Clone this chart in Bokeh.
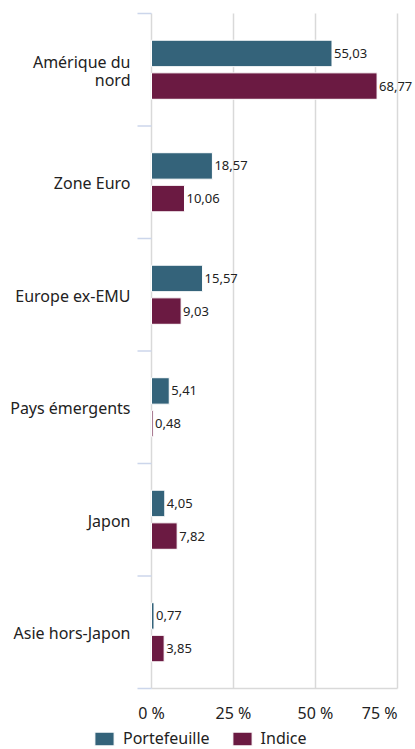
import textwrap
from bokeh.plotting import figure
from bokeh.models import (ColumnDataSource, Range1d, LabelSet, Legend,
                          LegendItem)
from bokeh.core.properties import value
from bokeh.transform import dodge
from bokeh.embed import file_html
from bokeh.resources import INLINE

categories = ["Amérique du nord", "Zone Euro", "Europe ex-EMU",
              "Pays émergents", "Japon", "Asie hors-Japon"]
portefeuille = [55.03, 18.57, 15.57, 5.41, 4.05, 0.77]
indice = [68.77, 10.06, 9.03, 0.48, 7.82, 3.85]
x_ticks = [0, 25, 50, 75]
x_tick_labels = ["0 %", "25 %", "50 %", "75 %"]

FONT = "Noto Sans"
C_PORT = "#34637a"
C_IND = "#6b1a42"
GRID = "#d9d9d9"
TICK = "#ccd6eb"
TXT = "#222222"

W, H = 415, 749
# plot-area placement inside the canvas (pixels)
PL, PR, PT, PB = 151, 397, 13, 688
LINE_H = 18  # px between wrapped category label lines

def fr(v):
    return f"{v:.2f}".replace(".", ",")

n = len(categories)
pos = list(range(n))
bounds = [i - 0.5 for i in range(n + 1)]

# ranges spanning the whole canvas so that nothing is clipped
kx = (PR - PL) / (x_ticks[-1] - x_ticks[0])
ky = (PB - PT) / n
x0 = x_ticks[0] - PL / kx
x1 = x_ticks[-1] + (W - PR) / kx
y_top = -0.5 - PT / ky
y_bot = n - 0.5 + (H - PB) / ky

src = ColumnDataSource(dict(
    pos=pos,
    port=portefeuille,
    ind=indice,
    port_txt=[fr(v) for v in portefeuille],
    ind_txt=[fr(v) for v in indice],
))

# wrapped category labels, one row per line, each right-aligned
lx, ly, lt, lo = [], [], [], []
for i, c in zip(pos, categories):
    lines = textwrap.wrap(c, 15)
    k = len(lines)
    for j, s in enumerate(lines):
        lx.append(0)
        ly.append(i)
        lt.append(s)
        lo.append(-(j - (k - 1) / 2) * LINE_H - 1)
cat_src = ColumnDataSource(dict(x=lx, y=ly, t=lt, yo=lo))

p = figure(width=W, height=H, output_backend="svg", toolbar_location=None,
           x_range=Range1d(x0, x1), y_range=Range1d(y_bot, y_top),
           x_axis_location=None, y_axis_location=None, min_border=0)
p.outline_line_color = None
p.background_fill_color = "white"
p.border_fill_color = "white"
p.xgrid.grid_line_color = None
p.ygrid.grid_line_color = None

# vertical grid lines at the value ticks
p.segment(x0=x_ticks, x1=x_ticks, y0=[bounds[0]] * len(x_ticks),
          y1=[bounds[-1]] * len(x_ticks), line_color=GRID, line_width=1.5)
# value-axis baseline
p.segment(x0=[x_ticks[0]], x1=[x_ticks[-1]], y0=[bounds[-1]], y1=[bounds[-1]],
          line_color=GRID, line_width=1.5)
# category ticks at category boundaries
p.ray(x=[0] * len(bounds), y=bounds, length=14, length_units="screen",
      angle=180, angle_units="deg", line_color=TICK, line_width=1.5)

off = 0.145
hb = 0.235
r1 = p.hbar(y=dodge("pos", -off, range=p.y_range), right="port", left=0,
            height=hb, source=src, fill_color=C_PORT, line_color="white",
            line_width=1)
r2 = p.hbar(y=dodge("pos", off, range=p.y_range), right="ind", left=0,
            height=hb, source=src, fill_color=C_IND, line_color="white",
            line_width=1)

# data labels
for col, txt, o in (("port", "port_txt", -off), ("ind", "ind_txt", off)):
    p.add_layout(LabelSet(x=col, y=dodge("pos", o, range=p.y_range), text=txt,
                          source=src, x_offset=2, text_align="left",
                          text_baseline="middle", text_font=value(FONT),
                          text_font_size="13px", text_color=TXT))

# category labels
p.add_layout(LabelSet(x="x", y="y", text="t", source=cat_src, x_offset=-21,
                      y_offset="yo", text_align="right",
                      text_baseline="middle", text_font=value(FONT),
                      text_font_size="16px", text_color=TXT))

# value tick labels
yb = bounds[-1]
xs1 = ColumnDataSource(dict(x=x_ticks[:-1], y=[yb] * (len(x_ticks) - 1),
                            t=x_tick_labels[:-1]))
xs2 = ColumnDataSource(dict(x=x_ticks[-1:], y=[yb], t=x_tick_labels[-1:]))
for s, al in ((xs1, "center"), (xs2, "right")):
    p.add_layout(LabelSet(x="x", y="y", text="t", source=s, y_offset=-24,
                          text_align=al, text_baseline="middle",
                          text_font=value(FONT), text_font_size="16px",
                          text_color=TXT))

legend = Legend(items=[LegendItem(label="Portefeuille", renderers=[r1]),
                       LegendItem(label="Indice", renderers=[r2])],
                location=(92, 0), orientation="horizontal",
                glyph_width=24, glyph_height=17, label_height=17,
                label_standoff=7, spacing=20, padding=0, margin=0,
                border_line_color=None, background_fill_alpha=0,
                label_text_font=FONT, label_text_font_size="16px",
                label_text_color=TXT)
p.add_layout(legend)

open("out.html", "w").write(file_html(p, INLINE))
